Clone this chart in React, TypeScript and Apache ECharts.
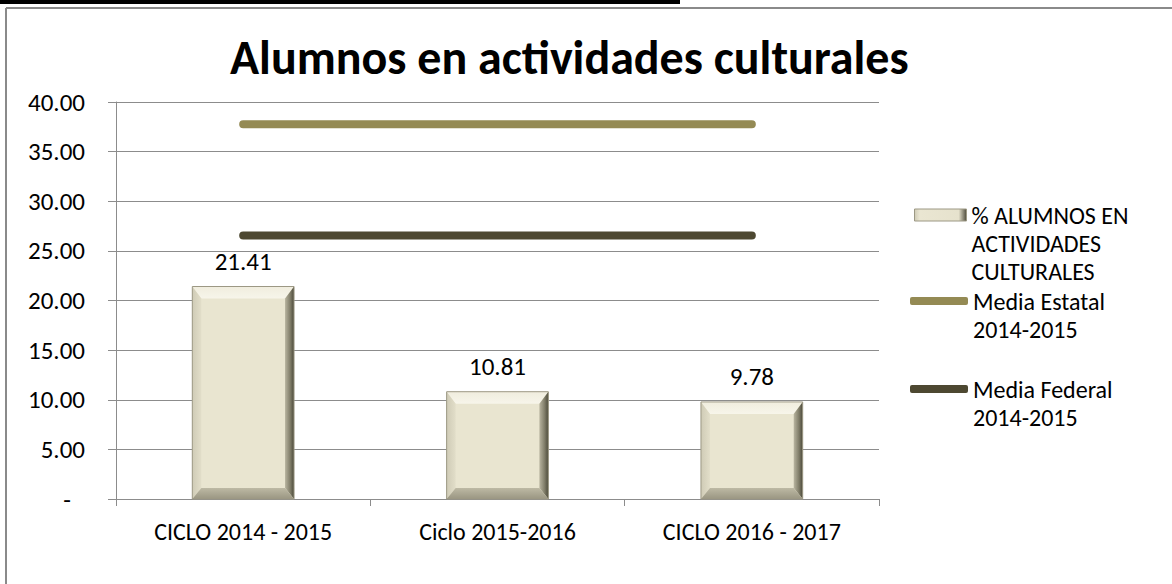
import React, { useEffect, useRef } from "react";
import * as echarts from "echarts";

const categories = ["CICLO 2014 - 2015", "Ciclo 2015-2016", "CICLO 2016 - 2017"];
const alumnosValues = [21.41, 10.81, 9.78];
const mediaEstatal = [37.75, 37.75, 37.75];
const mediaFederal = [26.55, 26.55, 26.55];
const yTicks = { min: 0, max: 40, interval: 5 };
const seriesNames = [
  "% ALUMNOS EN\nACTIVIDADES\nCULTURALES",
  "Media Estatal\n2014-2015",
  "Media Federal\n2014-2015",
];
const titleText = "Alumnos en actividades culturales";

const FONT = "Carlito, Calibri, Lato, sans-serif";
const BAR_FILL = "#E9E5D0";
const ESTATAL_COLOR = "#948A54";
const FEDERAL_COLOR = "#4D4831";
const GRID_COLOR = "#8C8C8C";

export default function App() {
  const ref = useRef<HTMLDivElement>(null);

  useEffect(() => {
    if (!ref.current) return;
    const chart = echarts.init(ref.current, undefined, { renderer: "svg" });

    const bevelRender = (params: any, api: any) => {
      const idx = api.value(0);
      const v = api.value(1);
      const top = api.coord([idx, v]);
      const base = api.coord([idx, 0]);
      const w = api.size([1, 0])[0] * 0.4;
      const x0 = top[0] - w / 2;
      const x1 = top[0] + w / 2;
      const y0 = top[1];
      const y1 = base[1];
      const b = 9;
      const bt = 12;
      const bb = 11;
      const ix0 = x0 + b;
      const ix1 = x1 - b;
      const iy0 = y0 + bt;
      const iy1 = y1 - bb;
      return {
        type: "group",
        children: [
          {
            type: "polygon",
            shape: { points: [[x0, y0], [x1, y0], [ix1, iy0], [ix0, iy0]] },
            style: {
              fill: new echarts.graphic.LinearGradient(0, 0, 0, 1, [
                { offset: 0, color: "#F0EDDE" },
                { offset: 1, color: "#F7F5EA" },
              ]),
            },
          },
          {
            type: "polygon",
            shape: { points: [[x0, y0], [ix0, iy0], [ix0, iy1], [x0, y1]] },
            style: {
              fill: new echarts.graphic.LinearGradient(0, 0, 1, 0, [
                { offset: 0, color: "#CFCBB6" },
                { offset: 1, color: "#E2DEC9" },
              ]),
            },
          },
          {
            type: "polygon",
            shape: { points: [[x1, y0], [x1, y1], [ix1, iy1], [ix1, iy0]] },
            style: {
              fill: new echarts.graphic.LinearGradient(0, 0, 1, 0, [
                { offset: 0, color: "#B9B5A0" },
                { offset: 0.6, color: "#7E7B67" },
                { offset: 1, color: "#4A4839" },
              ]),
            },
          },
          {
            type: "polygon",
            shape: { points: [[x0, y1], [ix0, iy1], [ix1, iy1], [x1, y1]] },
            style: {
              fill: new echarts.graphic.LinearGradient(0, 0, 0, 1, [
                { offset: 0, color: "#BDB9A4" },
                { offset: 1, color: "#9A9682" },
              ]),
            },
          },
          {
            type: "rect",
            shape: { x: x0, y: y0, width: w, height: y1 - y0 },
            style: { fill: "none", stroke: "#9C9884", lineWidth: 1 },
          },
        ],
      };
    };

    const legendText = {
      color: "#000",
      fontFamily: FONT,
      fontSize: 24,
      lineHeight: 28,
    };

    chart.setOption({
      animation: false,
      backgroundColor: "#fff",
      title: {
        text: titleText,
        left: 230,
        top: 33,
        padding: 0,
        textStyle: {
          fontFamily: FONT,
          fontSize: 48,
          fontWeight: "bold",
          color: "#000",
        },
      },
      grid: { left: 116, right: 293, top: 102, bottom: 85, containLabel: false },
      legend: [
        {
          data: [
            {
              name: seriesNames[0],
              icon: "rect",
              itemStyle: {
                color: new echarts.graphic.LinearGradient(0, 0, 1, 0, [
                  { offset: 0, color: "#CFCBB6" },
                  { offset: 0.1, color: "#EAE6D2" },
                  { offset: 0.85, color: "#E6E2CD" },
                  { offset: 1, color: "#4E4B3C" },
                ]),
                borderColor: "#9C9884",
                borderWidth: 1,
              },
            },
          ],
          formatter: (name: string) => "\n\n" + name,
          orient: "vertical",
          left: 914,
          top: 145,
          padding: 0,
          itemWidth: 52,
          itemHeight: 12,
          selectedMode: false,
          textStyle: legendText,
        },
        {
          data: [{ name: seriesNames[1], icon: "roundRect" }],
          formatter: (name: string) => "\n" + name,
          orient: "vertical",
          left: 910,
          top: 259,
          padding: 0,
          itemWidth: 58,
          itemHeight: 8,
          selectedMode: false,
          textStyle: legendText,
        },
        {
          data: [{ name: seriesNames[2], icon: "roundRect" }],
          formatter: (name: string) => "\n" + name,
          orient: "vertical",
          left: 910,
          top: 347,
          padding: 0,
          itemWidth: 58,
          itemHeight: 8,
          selectedMode: false,
          textStyle: legendText,
        },
      ],
      xAxis: {
        type: "category",
        data: categories,
        axisLine: { show: true, lineStyle: { color: GRID_COLOR, width: 1 } },
        axisTick: {
          show: true,
          alignWithLabel: false,
          interval: 0,
          length: 7,
          lineStyle: { color: GRID_COLOR },
        },
        axisLabel: {
          color: "#000",
          fontFamily: FONT,
          fontSize: 24,
          margin: 20,
          interval: 0,
        },
        splitLine: { show: false },
      },
      yAxis: {
        type: "value",
        min: yTicks.min,
        max: yTicks.max,
        interval: yTicks.interval,
        axisLine: { show: true, lineStyle: { color: GRID_COLOR, width: 1 } },
        axisTick: { show: true, length: 8, lineStyle: { color: GRID_COLOR } },
        splitLine: { show: true, lineStyle: { color: GRID_COLOR, width: 1 } },
        axisLabel: {
          color: "#000",
          fontFamily: FONT,
          fontSize: 25,
          margin: 31,
          formatter: (v: number) => (v === 0 ? "{d|-}" : v.toFixed(2)),
          rich: {
            d: {
              color: "#000",
              fontFamily: FONT,
              fontSize: 25,
              padding: [0, 14, 0, 0],
            },
          },
        },
      },
      series: [
        {
          name: seriesNames[0],
          type: "bar",
          data: alumnosValues,
          barWidth: "40%",
          itemStyle: { color: BAR_FILL },
          label: {
            show: true,
            position: "top",
            distance: 13,
            color: "#000",
            fontFamily: FONT,
            fontSize: 25,
            formatter: (p: any) => p.value.toFixed(2),
          },
          z: 2,
        },
        {
          name: "bevel",
          type: "custom",
          data: alumnosValues.map((v, i) => [i, v]),
          encode: { x: 0, y: 1 },
          renderItem: bevelRender,
          silent: true,
          z: 3,
        },
        {
          name: seriesNames[1],
          type: "line",
          data: mediaEstatal,
          symbol: "none",
          itemStyle: { color: ESTATAL_COLOR },
          lineStyle: { color: ESTATAL_COLOR, width: 8, cap: "round" },
          z: 4,
        },
        {
          name: seriesNames[2],
          type: "line",
          data: mediaFederal,
          symbol: "none",
          itemStyle: { color: FEDERAL_COLOR },
          lineStyle: { color: FEDERAL_COLOR, width: 8, cap: "round" },
          z: 4,
        },
      ],
      graphic: [
        {
          type: "rect",
          shape: { x: 0, y: 0, width: 680, height: 4 },
          style: { fill: "#000" },
          silent: true,
        },
        {
          type: "line",
          shape: { x1: 6, y1: 8, x2: 1172, y2: 8 },
          style: { stroke: "#8A8A8A", lineWidth: 2 },
          silent: true,
        },
        {
          type: "line",
          shape: { x1: 6, y1: 8, x2: 6, y2: 584 },
          style: { stroke: "#8A8A8A", lineWidth: 2 },
          silent: true,
        },
      ],
    });

    return () => chart.dispose();
  }, []);

  return (
    <div
      ref={ref}
      style={{ position: "fixed", left: 0, top: 0, width: 1172, height: 584 }}
    />
  );
}
